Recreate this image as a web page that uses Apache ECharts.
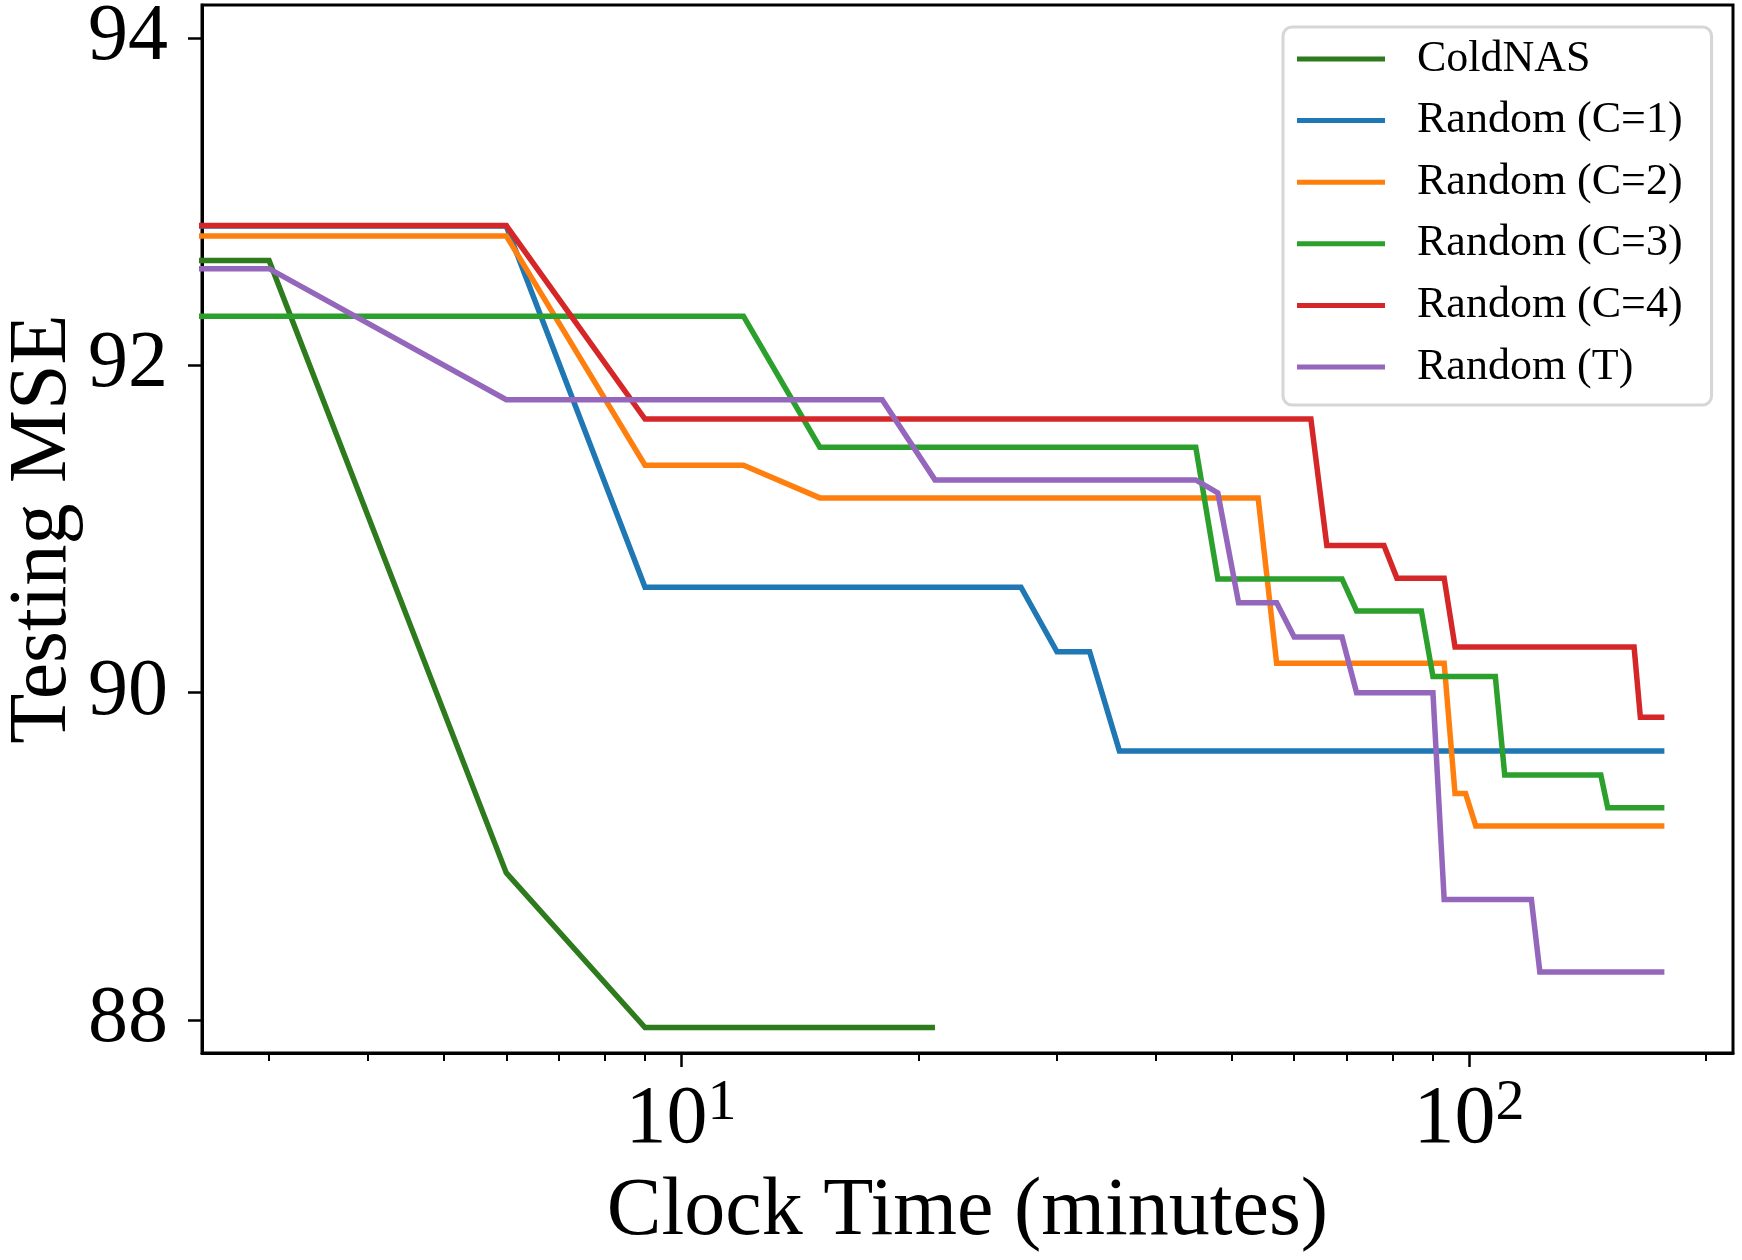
<!DOCTYPE html>
<html>
<head>
<meta charset="utf-8">
<script src="https://cdn.jsdelivr.net/npm/echarts@6/dist/echarts.min.js"></script>
<style>
    html, body { margin: 0; padding: 0; background: #fff; }
    #chart { width: 1742px; height: 1260px; }
</style>
</head>
<body>
<div id="chart"></div>
<script>
(function() {
    'use strict';

    // series names, in legend order
    var seriesNames = ['ColdNAS', 'Random (C=1)', 'Random (C=2)', 'Random (C=3)', 'Random (C=4)', 'Random (T)'];

    // clock time (minutes) / testing MSE
    var coldnasTime = [1, 3, 6, 9, 21];
    var coldnasMse  = [92.64, 92.64, 88.90, 87.955, 87.955];

    var randC1Time = [1, 6, 9, 27, 30, 33, 36, 177];
    var randC1Mse  = [92.85, 92.85, 90.645, 90.645, 90.25, 90.25, 89.645, 89.645];

    var randC2Time = [1, 6, 9, 12, 15, 54, 57, 93, 96, 99, 102, 177];
    var randC2Mse  = [92.79, 92.79, 91.39, 91.39, 91.19, 91.19, 90.18, 90.18, 89.385, 89.385, 89.187, 89.187];

    var randC3Time = [1, 12, 15, 45, 48, 69, 72, 87, 90, 108, 111, 147, 150, 177];
    var randC3Mse  = [92.30, 92.30, 91.50, 91.50, 90.695, 90.695, 90.50, 90.50, 90.10, 90.10, 89.497, 89.497, 89.297, 89.297];

    var randC4Time = [1, 6, 9, 63, 66, 78, 81, 93, 96, 162, 165, 177];
    var randC4Mse  = [92.853, 92.853, 91.671, 91.671, 90.90, 90.90, 90.70, 90.70, 90.28, 90.28, 89.85, 89.85];

    var randTTime = [1, 3, 6, 18, 21, 45, 48, 51, 57, 60, 69, 72, 90, 93, 120, 123, 177];
    var randTMse  = [92.59, 92.59, 91.79, 91.79, 91.30, 91.30, 91.22, 90.55, 90.55, 90.34, 90.34, 90.00, 90.00, 88.737, 88.737, 88.295, 88.295];

    // ticks
    var xMajorTicks = [10, 100];
    var xMinorTicks = [3, 4, 5, 6, 7, 8, 9, 20, 30, 40, 50, 60, 70, 80, 90, 200];
    var yTicks = [88, 90, 92, 94];

    var colors = ['#2e7b1e', '#1f77b4', '#ff7f0e', '#2ca02c', '#d62728', '#9467bd'];

    var FONT = 'Liberation Serif';
    var X_MIN = 2.466, X_MAX = 216.3;

    function pairs(t, v) {
        return t.map(function(x, i) { return [x, v[i]]; });
    }

    var allData = [
        pairs(coldnasTime, coldnasMse),
        pairs(randC1Time, randC1Mse),
        pairs(randC2Time, randC2Mse),
        pairs(randC3Time, randC3Mse),
        pairs(randC4Time, randC4Mse),
        pairs(randTTime, randTMse)
    ];

    var series = seriesNames.map(function(name, i) {
        return {
            name: name,
            type: 'line',
            xAxisIndex: 0,
            data: allData[i],
            symbol: 'none',
            showSymbol: false,
            lineStyle: { color: colors[i], width: 5.5, join: 'miter' },
            itemStyle: { color: colors[i] },
            z: 2 + i
        };
    });

    var option = {
        animation: false,
        backgroundColor: '#fff',
        grid: {
            left: 202, top: 5, width: 1531, height: 1048,
            show: true, borderColor: '#000', borderWidth: 3,
            containLabel: false, outerBoundsMode: 'none'
        },
        legend: {
            orient: 'vertical',
            left: 1283, top: 27,
            icon: 'rect',
            itemWidth: 88, itemHeight: 5, itemGap: 17.6,
            padding: [10, 29, 16, 14],
            backgroundColor: '#fff',
            borderColor: '#d6d6d6', borderWidth: 3, borderRadius: 9,
            textStyle: { fontFamily: FONT, fontSize: 44, color: '#000', lineHeight: 40, padding: [0, 0, 0, 27] },
            data: seriesNames
        },
        xAxis: [
            {
                type: 'log', logBase: 10, min: X_MIN, max: X_MAX,
                position: 'bottom',
                axisLine: { show: true, lineStyle: { color: '#000', width: 3 } },
                axisTick: { show: true, customValues: xMajorTicks, length: 14, lineStyle: { color: '#000', width: 2.5 } },
                axisLabel: {
                    customValues: xMajorTicks,
                    margin: 22,
                    formatter: function(v) {
                        return '{b|10}{s|' + Math.round(Math.log(v) / Math.LN10) + '}';
                    },
                    rich: {
                        b: { fontFamily: FONT, fontSize: 82, color: '#000', lineHeight: 90 },
                        s: { fontFamily: FONT, fontSize: 58, color: '#000', verticalAlign: 'top', lineHeight: 52 }
                    }
                },
                splitLine: { show: false },
                minorTick: { show: false },
                name: 'Clock Time (minutes)',
                nameLocation: 'middle',
                nameGap: 118,
                nameMoveOverlap: false,
                nameTextStyle: { fontFamily: FONT, fontSize: 82, color: '#000' }
            },
            {
                // minor ticks only
                type: 'log', logBase: 10, min: X_MIN, max: X_MAX,
                position: 'bottom',
                axisLine: { show: false },
                axisTick: { show: true, customValues: xMinorTicks, length: 8, lineStyle: { color: '#000', width: 2 } },
                axisLabel: { show: false },
                splitLine: { show: false }
            }
        ],
        yAxis: {
            type: 'value', min: 87.8, max: 94.2,
            axisLine: { show: true, lineStyle: { color: '#000', width: 3 } },
            axisTick: { show: true, customValues: yTicks, length: 14, lineStyle: { color: '#000', width: 2.5 } },
            axisLabel: { customValues: yTicks, margin: 34, fontFamily: FONT, fontSize: 80, color: '#000' },
            splitLine: { show: false },
            name: 'Testing MSE',
            nameLocation: 'middle',
            nameRotate: 90,
            nameGap: 118,
            nameMoveOverlap: false,
            nameTextStyle: { fontFamily: FONT, fontSize: 82, color: '#000' }
        },
        series: series
    };

    var chart = echarts.init(document.getElementById('chart'), null, { renderer: 'canvas' });
    chart.setOption(option);
})();
</script>
</body>
</html>
